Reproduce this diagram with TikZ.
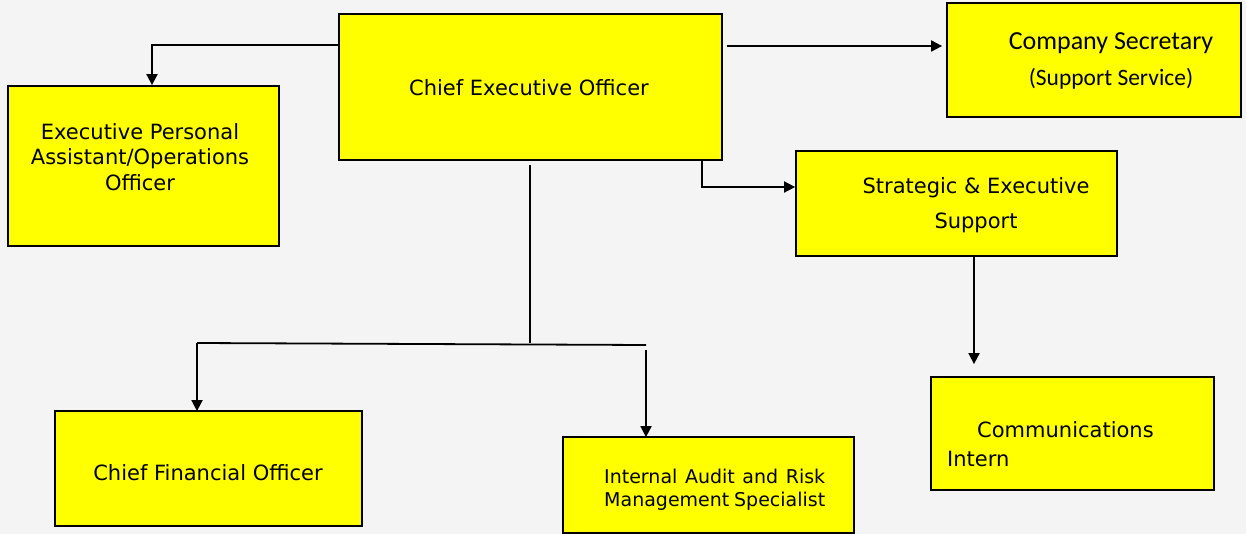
\documentclass[tikz,border=0pt]{standalone}
\usepackage{fontspec}
\setmainfont{DejaVu Sans}
\newfontfamily\calib{Carlito}
\usetikzlibrary{arrows.meta}
\definecolor{bg}{HTML}{F4F4F4}
\definecolor{boxfill}{HTML}{FFFF00}
\begin{document}
\begin{tikzpicture}[x=1pt,y=-1pt,
  box/.style={draw=black,fill=boxfill,line width=1.8pt,inner sep=0pt,rectangle},
  lbl/.style={inner sep=0pt,text=black,font=\fontsize{21}{25.5}\selectfont},
  link/.style={draw=black,line width=1.8pt},
  arr/.style={link,-{Triangle[width=11pt,length=11pt]}}]
% canvas
\fill[bg] (0,0) rectangle (1246,534);
\useasboundingbox (0,0) rectangle (1246,534);

% boxes
\node[box,minimum width=383pt,minimum height=146pt] (ceo) at (530.5,87) {};
\node[box,minimum width=271pt,minimum height=160pt] (epa) at (143.5,166) {};
\node[box,minimum width=294pt,minimum height=114pt] (cs)  at (1094,60) {};
\node[box,minimum width=321pt,minimum height=105pt] (ses) at (956.5,203.5) {};
\node[box,minimum width=283pt,minimum height=113pt] (ci)  at (1072.5,433.5) {};
\node[box,minimum width=307pt,minimum height=115pt] (cfo) at (208.5,468.5) {};
\node[box,minimum width=291pt,minimum height=96pt]  (ia)  at (708.5,485) {};

% labels
\node[lbl] (ceoT) at (529,88) {Chief Executive Officer};
\node[lbl,align=center] (epaT) at (140,157) {Executive Personal\\Assistant/Operations\\Officer};
\node[lbl,align=center,font=\calib\fontsize{26}{36}\selectfont] (csT) at (1111,61)
  {Company Secretary\\{\fontsize{23.5}{36}\selectfont (Support Service)}};
\node[lbl,align=center,font=\fontsize{21}{35}\selectfont] (sesT) at (976,205) {Strategic \& Executive\\Support};
\node[lbl,align=left,anchor=west,font=\fontsize{21}{29}\selectfont] (ciT) at (947,444)
  {\hspace*{30pt}Communications\\Intern};
\node[lbl] (cfoT) at (208,473) {Chief Financial Officer};
\node[lbl,align=left,anchor=west,font=\fontsize{19}{23}\selectfont] (iaT) at (604,490)
  {\makebox[221pt][s]{Internal Audit and Risk}\\\makebox[221pt][s]{Management Specialist}};

% routing points
\coordinate (pa) at (152,45);
\coordinate (pcs) at (727,46);
\coordinate (pses) at (702,187);
\coordinate (ptop) at (530,165);
\coordinate (pbus) at (530,343);
\coordinate (pcfo) at (197,343);
\coordinate (pia) at (646,345);
\coordinate (piad) at (646,350);
\coordinate (pci) at (974,256);

% connectors
\draw[arr] (ceo.west |- pa) -| (epa.north -| pa);
\draw[arr] (pcs) -- ([xshift=-4pt]cs.west |- pcs);
\draw[arr] (ceo.south -| pses) |- (ses.west |- pses);
\draw[link] (ptop) -- (pbus);
\draw[link] (pcfo) -- (pia);
\draw[arr] (pcfo) -- ([yshift=-1pt]cfo.north -| pcfo);
\draw[arr] (piad) -- ([yshift=-1pt]ia.north -| piad);
\draw[arr,shorten >=12pt] (ses.south -| pci) -- (ci.north -| pci);
\end{tikzpicture}
\end{document}
